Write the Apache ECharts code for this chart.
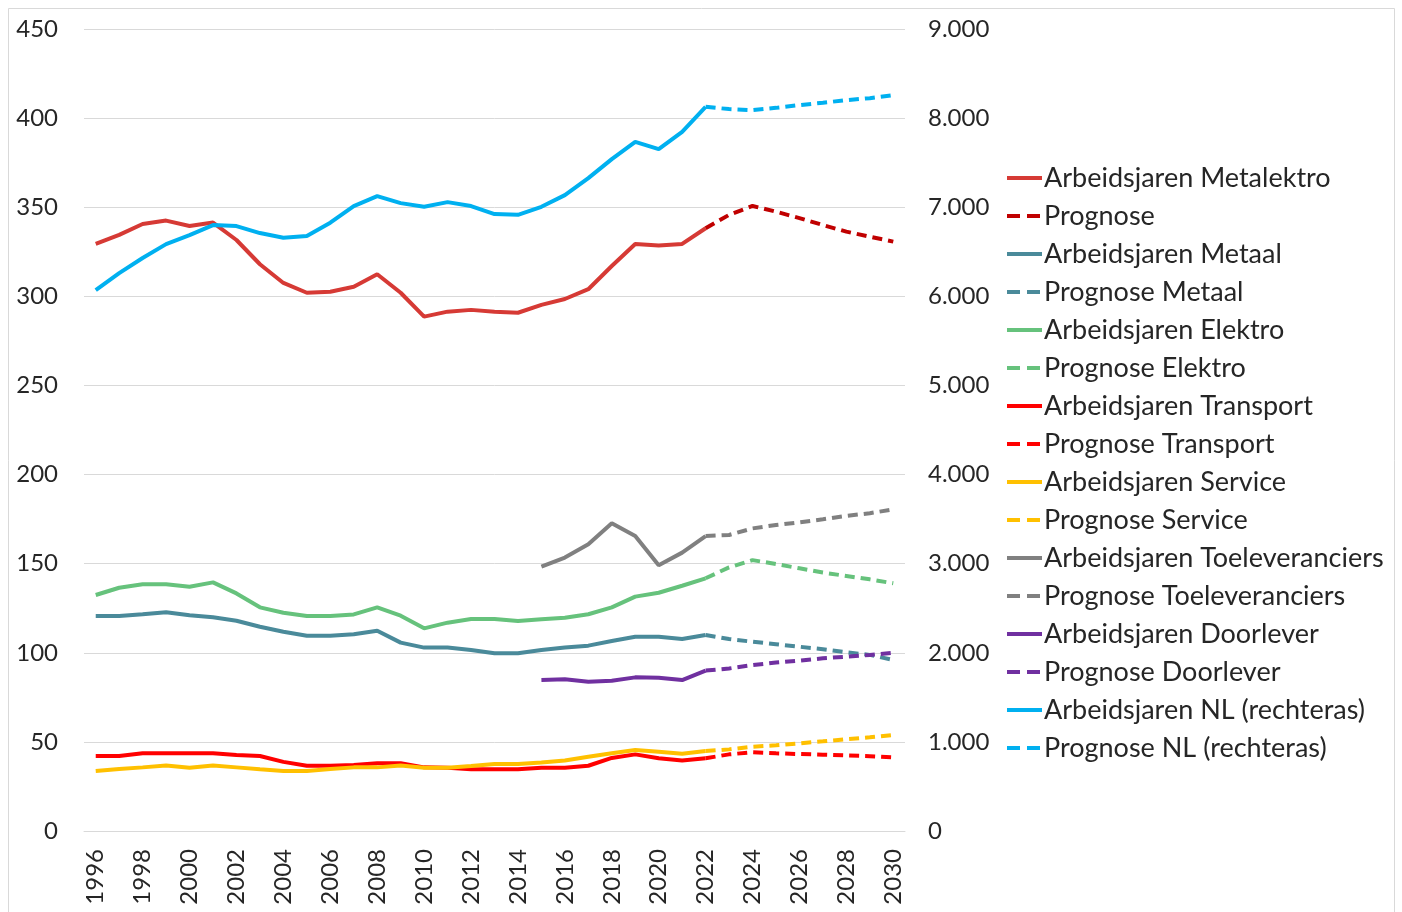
<!DOCTYPE html>
<html><head><meta charset="utf-8">
<script src="https://cdn.jsdelivr.net/npm/echarts@6/dist/echarts.min.js"></script>
<style>html,body{margin:0;padding:0;background:#fff}#c{width:1402px;height:912px}</style>
</head><body><div id="c"></div>
<script>
const years = ['1996','1997','1998','1999','2000','2001','2002','2003','2004','2005','2006','2007','2008','2009','2010','2011','2012','2013','2014','2015','2016','2017','2018','2019','2020','2021','2022','2023','2024','2025','2026','2027','2028','2029','2030'];
const leftTicks = [0,50,100,150,200,250,300,350,400,450];
const rightTicks = [0,1000,2000,3000,4000,5000,6000,7000,8000,9000];

const metalektro = [329.4,334.5,340.6,342.5,339.5,341.4,331.6,318,307.5,302,302.6,305.4,312.4,302,288.6,291.4,292.4,291.4,290.8,295.2,298.5,304,317,329.4,328.5,329.4,338.2];
const metalektroProg = [338.2,345.7,350.7,347.5,343.9,340,336.3,333.5,330.7];
const metaal = [120.6,120.6,121.6,122.7,121,119.9,118,114.6,111.8,109.6,109.6,110.4,112.4,105.7,102.9,102.9,101.6,99.7,99.7,101.6,102.9,104,106.6,109,109,107.7,110];
const metaalProg = [110,107.7,106.2,104.8,103.4,102,100.3,98.8,96];
const elektro = [132.4,136.5,138.4,138.4,137,139.5,133.3,125.5,122.5,120.6,120.6,121.5,125.5,120.8,113.7,116.9,119,119,117.8,118.8,119.7,121.6,125.5,131.5,133.7,137.6,141.8];
const elektroProg = [141.8,147.9,152,149.8,147.4,145,143.1,141.2,139];
const transport = [42.1,42.1,43.6,43.6,43.6,43.6,42.6,42.1,38.8,36.6,36.6,37,38,38,35.7,35.5,34.6,34.6,34.6,35.5,35.5,36.6,41,43,40.8,39.5,40.8];
const transportProg = [40.8,43,44.2,43.6,43.2,42.8,42.4,42,41.3];
const service = [33.7,34.8,35.7,36.8,35.5,36.8,35.7,34.6,33.7,33.7,34.8,35.7,35.7,36.8,35.5,35.5,36.5,37.6,37.6,38.5,39.6,41.7,43.6,45.5,44.5,43.4,44.9];
const serviceProg = [44.9,45.8,47.3,48.1,49.2,50.3,51.5,52.6,53.9];
const toelev = [148.3,153.4,160.9,172.7,165.5,149.1,156.2,165.5];
const toelevProg = [165.5,166.1,169.8,171.7,173.2,174.9,176.8,178.3,180.5];
const doorlever = [84.7,85.1,83.8,84.3,86.2,86,84.7,90];
const doorleverProg = [90,91.2,93.1,94.5,95.6,96.9,97.8,98.8,100];
const nl = [6070,6260,6430,6586,6687,6800,6788,6710,6657,6676,6826,7013,7125,7046,7005,7057,7013,6923,6915,7005,7136,7327,7540,7734,7652,7846,8127];
const nlProg = [8127,8101,8090,8115,8146,8172,8202,8224,8258];

function hist(arr, startIdx){ const out = years.map(()=>null); arr.forEach((v,i)=>out[startIdx+i]=v); return out; }
const iProg = years.indexOf('2022');
const iLate = years.indexOf('2015');

const solidIcon = 'path://M0,0H35V4H0Z';
const dashIcon = 'path://M0,0H13V4H0Z M20,0H33V4H20Z M33,0H35V0.01H33Z';

function mk(name, data, color, dashed, axis){
  return {name, type:'line', data, yAxisIndex: axis||0, symbol:'none', showSymbol:false, connectNulls:false,
    lineStyle:{color, width:4, type: dashed?[10,6]:'solid', cap:'butt'}, itemStyle:{color},
    emphasis:{disabled:true}, silent:true, _dashed:dashed};
}
const series = [
  mk('Arbeidsjaren Metalektro', hist(metalektro,0), '#D63A35', false),
  mk('Prognose', hist(metalektroProg,iProg), '#C00000', true),
  mk('Arbeidsjaren Metaal', hist(metaal,0), '#4A8A9A', false),
  mk('Prognose Metaal', hist(metaalProg,iProg), '#4A8A9A', true),
  mk('Arbeidsjaren Elektro', hist(elektro,0), '#66C27C', false),
  mk('Prognose Elektro', hist(elektroProg,iProg), '#66C27C', true),
  mk('Arbeidsjaren Transport', hist(transport,0), '#FF0000', false),
  mk('Prognose Transport', hist(transportProg,iProg), '#FF0000', true),
  mk('Arbeidsjaren Service', hist(service,0), '#FFC000', false),
  mk('Prognose Service', hist(serviceProg,iProg), '#FFC000', true),
  mk('Arbeidsjaren Toeleveranciers', hist(toelev,iLate), '#808080', false),
  mk('Prognose Toeleveranciers', hist(toelevProg,iProg), '#808080', true),
  mk('Arbeidsjaren Doorlever', hist(doorlever,iLate), '#7030A0', false),
  mk('Prognose Doorlever', hist(doorleverProg,iProg), '#7030A0', true),
  mk('Arbeidsjaren NL (rechteras)', hist(nl,0), '#00B0F0', false, 1),
  mk('Prognose NL (rechteras)', hist(nlProg,iProg), '#00B0F0', true, 1)
];

const font = 'Lato, "Noto Sans", sans-serif';
const chart = echarts.init(document.getElementById('c'), null, {renderer:'canvas'});
chart.setOption({
  animation:false,
  backgroundColor:'#fff',
  textStyle:{fontFamily:font},
  graphic:[{type:'rect', shape:{x:8.5,y:8.5,width:1386,height:920}, style:{fill:'none', stroke:'#d9d9d9', lineWidth:1}, silent:true}],
  grid:{left:84, right:497, top:29, bottom:81, containLabel:false},
  legend:{
    orient:'vertical', left:1007, top:164, padding:0, itemWidth:35, itemHeight:4, itemGap:10,
    textStyle:{fontSize:27, color:'#262626', fontFamily:font, lineHeight:28, padding:[0,0,0,-3]},
    data: series.map(s=>({name:s.name, icon: s._dashed ? dashIcon : solidIcon, itemStyle:{color:s.lineStyle.color}})),
    selectedMode:false
  },
  xAxis:{type:'category', data:years, boundaryGap:true,
    axisLine:{show:true, lineStyle:{color:'#d9d9d9', width:1}}, axisTick:{show:false},
    axisLabel:{rotate:90, interval:1, fontSize:24, color:'#262626', margin:18, fontFamily:font}},
  yAxis:[
    {type:'value', min:leftTicks[0], max:leftTicks[leftTicks.length-1], interval:50,
     axisLine:{show:false}, axisTick:{show:false},
     splitLine:{lineStyle:{color:'#d9d9d9', width:1}},
     axisLabel:{fontSize:24, color:'#262626', margin:26, fontFamily:font}},
    {type:'value', min:rightTicks[0], max:rightTicks[rightTicks.length-1], interval:1000, position:'right',
     axisLine:{show:false}, axisTick:{show:false}, splitLine:{show:false},
     axisLabel:{fontSize:24, color:'#262626', margin:23, fontFamily:font,
       formatter:v=>String(v).replace(/\B(?=(\d{3})+(?!\d))/g,'.')}}
  ],
  series
});
</script></body></html>
